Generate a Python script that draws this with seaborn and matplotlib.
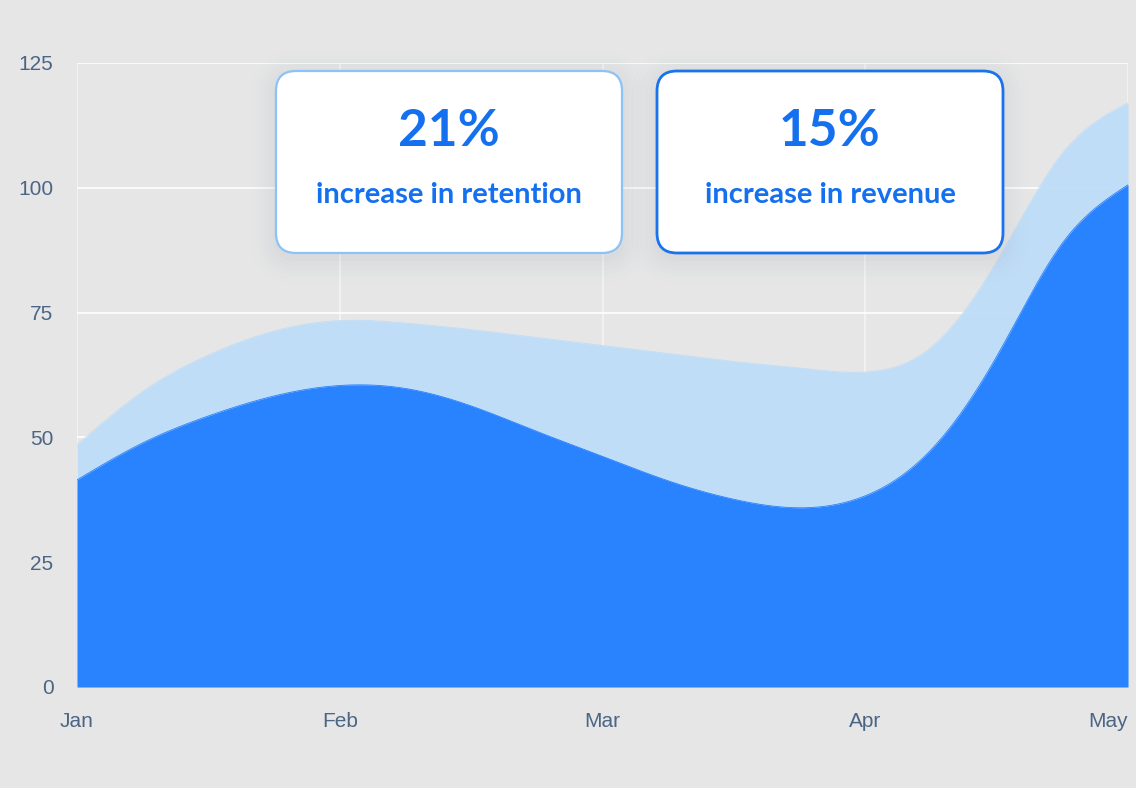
import numpy as np
import pandas as pd
import matplotlib
matplotlib.use("Agg")
import matplotlib.pyplot as plt
import seaborn as sns
from matplotlib.patches import FancyBboxPatch

# data (quarter-month steps, month index 0 = Jan)
month_labels = ["Jan", "Feb", "Mar", "Apr", "May"]
month_pos = [0, 1, 2, 3, 4]
x_pos = [0, 0.25, 0.5, 0.75, 1, 1.25, 1.5, 1.75, 2,
         2.25, 2.5, 2.75, 3, 3.25, 3.5, 3.75, 4]
retention = [48.5, 59.2, 66.5, 71.3, 73.4, 72.9, 71.6, 70.0, 68.4,
             66.8, 65.2, 63.9, 63.1, 68.0, 85.2, 106.9, 117.0]
revenue = [41.5, 48.9, 54.3, 58.3, 60.4, 59.8, 56.3, 51.2, 46.2,
           41.3, 37.6, 35.9, 38.3, 47.5, 66.2, 88.9, 100.6]
y_ticks = [0, 25, 50, 75, 100, 125]

cards = [
    {"big": "21%", "small": "increase in retention", "edge": "#8DC2F6", "lw": 1.6},
    {"big": "15%", "small": "increase in revenue", "edge": "#1A72EC", "lw": 2.0},
]

BG = "#E6E6E6"
DARK = "#2680FF"
LIGHT = "#BFDDF8"
TEXT_BLUE = "#1570EF"
TICK = "#4B6584"


def natural_spline(x, y, xs):
    # plain C2 cubic spline so the areas come out as smooth curves
    x = np.asarray(x, float)
    y = np.asarray(y, float)
    n = len(x)
    h = np.diff(x)
    A = np.zeros((n, n))
    r = np.zeros(n)
    A[0, 0] = A[-1, -1] = 1
    for i in range(1, n - 1):
        A[i, i - 1] = h[i - 1]
        A[i, i] = 2 * (h[i - 1] + h[i])
        A[i, i + 1] = h[i]
        r[i] = 6 * ((y[i + 1] - y[i]) / h[i] - (y[i] - y[i - 1]) / h[i - 1])
    M = np.linalg.solve(A, r)
    idx = np.clip(np.searchsorted(x, xs) - 1, 0, n - 2)
    hi = h[idx]
    a = x[idx + 1] - xs
    b = xs - x[idx]
    return (M[idx] * a**3 / (6 * hi) + M[idx + 1] * b**3 / (6 * hi)
            + (y[idx] / hi - M[idx] * hi / 6) * a
            + (y[idx + 1] / hi - M[idx + 1] * hi / 6) * b)


xs = np.linspace(x_pos[0], x_pos[-1], 800)
smooth = pd.DataFrame({
    "x": xs,
    "retention": natural_spline(x_pos, retention, xs),
    "revenue": natural_spline(x_pos, revenue, xs),
})

sns.set_theme(style="whitegrid")
plt.rcParams["font.family"] = ["Liberation Sans", "DejaVu Sans"]

fig = plt.figure(figsize=(11.36, 7.88), dpi=100, facecolor=BG)
ax = fig.add_axes([77 / 1136, 1 - 687 / 788, 1051 / 1136, 624 / 788])
ax.set_facecolor(BG)

ax.fill_between(smooth["x"], 0, smooth["retention"], color=LIGHT, alpha=0.97, lw=0, zorder=2)
ax.fill_between(smooth["x"], 0, smooth["revenue"], color=DARK, alpha=0.98, lw=0, zorder=3)
sns.lineplot(data=smooth, x="x", y="retention", ax=ax, color=LIGHT, lw=0.6, zorder=2)
sns.lineplot(data=smooth, x="x", y="revenue", ax=ax, color=DARK, lw=0.6, zorder=3)

ax.set_xlim(0, 4)
ax.set_ylim(0, 125)
ax.set_xticks(month_pos)
ax.set_xticklabels(month_labels)
ax.set_yticks(y_ticks)
ax.set_xlabel("")
ax.set_ylabel("")
ax.grid(True, axis="y", color="white", lw=1.3, alpha=0.9)
ax.grid(True, axis="x", color="white", lw=1.1, alpha=0.6)
ax.set_axisbelow(True)
for s in ax.spines.values():
    s.set_visible(False)
ax.tick_params(axis="both", length=0, labelsize=15, labelcolor=TICK)
ax.tick_params(axis="y", pad=17)
ax.tick_params(axis="x", pad=18)
ax.get_xticklabels()[-1].set_horizontalalignment("right")

# stat cards, placed in inches from the bottom-left corner
card_x = [2.76, 6.57]
card_w, card_h, card_y = 3.46, 1.82, 5.35
tr = fig.dpi_scale_trans
for cx, card in zip(card_x, cards):
    # soft shadow
    for i, a in enumerate([0.030, 0.025, 0.020, 0.015, 0.010, 0.008]):
        g = 0.03 + i * 0.045
        fig.patches.append(FancyBboxPatch(
            (cx - g, card_y - g - 0.05), card_w + 2 * g, card_h + 2 * g,
            boxstyle=f"round,pad=0,rounding_size={0.2 + g}",
            transform=tr, fc="#8a96a8", ec="none", alpha=a, zorder=5))
    fig.patches.append(FancyBboxPatch(
        (cx, card_y), card_w, card_h, boxstyle="round,pad=0,rounding_size=0.2",
        transform=tr, fc="white", ec=card["edge"], lw=card["lw"], zorder=6))
    mid = cx + card_w / 2
    fig.text(mid, 6.56, card["big"], transform=tr, ha="center", va="center",
             fontsize=37, fontweight="bold", color=TEXT_BLUE, family=["Lato", "DejaVu Sans"], zorder=7)
    fig.text(mid, 5.93, card["small"], transform=tr, ha="center", va="center",
             fontsize=21, fontweight="bold", color=TEXT_BLUE, family=["Lato", "DejaVu Sans"], zorder=7)

fig.savefig("out.png", dpi=100, facecolor=BG)
